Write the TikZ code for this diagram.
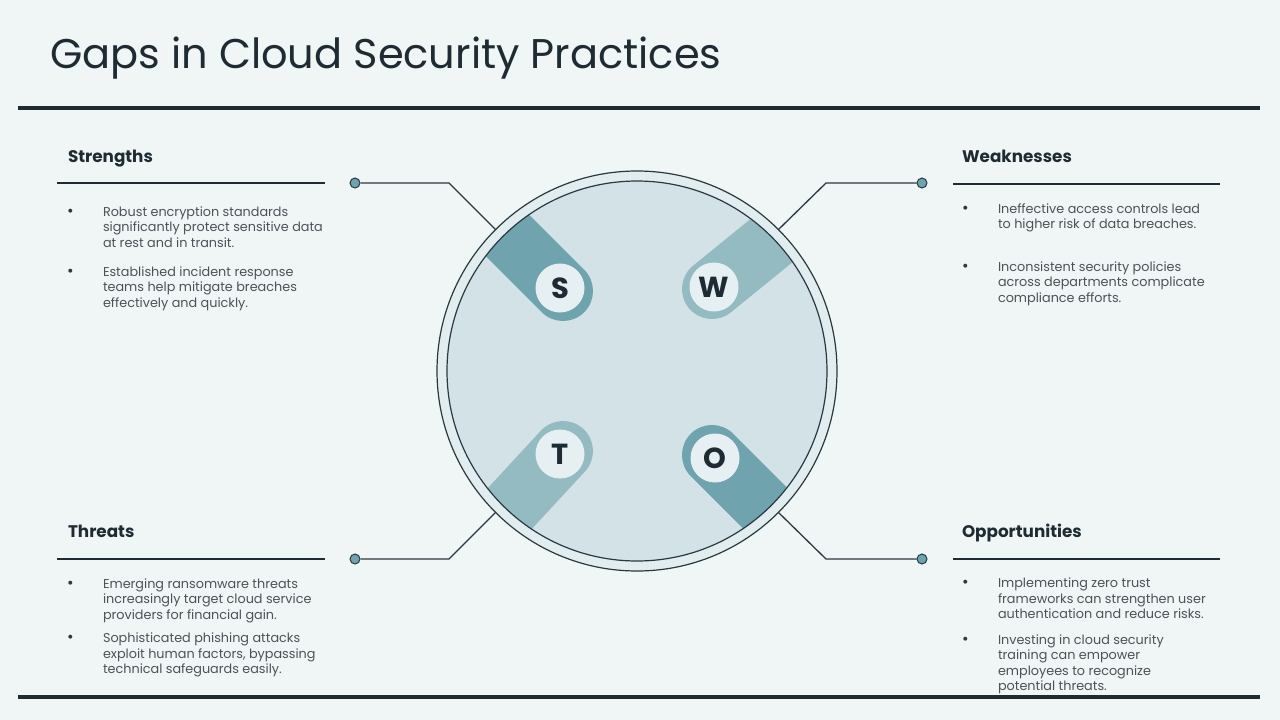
\documentclass[tikz,border=0pt]{standalone}
\usepackage{fontspec}
\setmainfont{Poppins}
\definecolor{bg}{HTML}{F0F5F6}
\definecolor{ink}{HTML}{1F2B33}
\definecolor{ink2}{HTML}{2A3840}
\definecolor{txt}{HTML}{4A5358}
\definecolor{ring}{HTML}{E2EDEF}
\definecolor{disc}{HTML}{D2E2E6}
\definecolor{tealA}{HTML}{6FA3AD}
\definecolor{tealB}{HTML}{93BBC1}
\definecolor{chip}{HTML}{E6EFF1}
\begin{document}
\begin{tikzpicture}[x=1pt,y=-1pt,
  head/.style={anchor=base west, inner sep=0, outer sep=0, text=ink, font=\fontsize{16.8}{20}\selectfont\bfseries},
  body/.style={anchor=base west, inner sep=0, outer sep=0, text=txt, align=left, font=\fontsize{12.8}{15.3}\selectfont},
  bul/.style={anchor=base west, inner sep=0, outer sep=0, text=ink2, font=\fontsize{16}{15.3}\selectfont},
  hrule/.style={draw=ink, line width=1.5pt},
  thick rule/.style={draw=ink, line width=4pt},
  conn/.style={draw=ink2, line width=1.3pt},
  dotnode/.style={circle, fill=tealA, draw=ink2, line width=1pt, minimum size=10pt, inner sep=0},
  letter/.style={circle, fill=chip, minimum size=49pt, inner sep=0, text=ink, font=\fontsize{29}{29}\selectfont\bfseries},
  band/.style={line width=60pt, line cap=round}
]
\useasboundingbox (0,0) rectangle (1280,720);
\fill[bg] (0,0) rectangle (1280,720);

% title and rules
\node[anchor=base west, inner sep=0, text=ink, font=\fontsize{41.5}{48}\selectfont] (title) at (50,68) {Gaps in Cloud Security Practices};
\coordinate (tl) at (18,108); \coordinate (tr) at (1260,108);
\coordinate (bl) at (18,697); \coordinate (br) at (1260,697);
\draw[thick rule] (tl) -- (tr);
\draw[thick rule] (bl) -- (br);

% central circle
\node[circle, minimum size=400pt, fill=ring, draw=ink2, line width=1.2pt, inner sep=0, outer sep=0] (outer) at (637,371) {};
\node[circle, minimum size=380pt, fill=disc, inner sep=0, outer sep=0] (inner) at (637,371) {};
\begin{scope}
  \clip (637,371) circle[radius=190];
  \draw[band, tealA] (563,291) -- (363,91);
  \draw[band, tealB] (712,289) -- (867,163);
  \draw[band, tealB] (563,451) -- (427,598);
  \draw[band, tealA] (712,455) -- (853,596);
\end{scope}
\draw[ink2, line width=1.2pt] (inner.center) circle[radius=190];
\node[letter] (S) at (560,288) {S};
\node[letter] (W) at (714,287) {W};
\node[letter] (T) at (560,454) {T};
\node[letter] (O) at (715,458) {O};

% connectors
\node[dotnode] (dS) at (355,183) {};
\node[dotnode] (dW) at (922,183) {};
\node[dotnode] (dT) at (355,559) {};
\node[dotnode] (dO) at (922,559) {};
\coordinate (kS) at (449,183);
\coordinate (kW) at (826,183);
\coordinate (kT) at (449,559);
\coordinate (kO) at (826,559);
\draw[conn] (dS) -- (kS) -- (outer.135);
\draw[conn] (dW) -- (kW) -- (outer.45);
\draw[conn] (dT) -- (kT) -- (outer.225);
\draw[conn] (dO) -- (kO) -- (outer.315);

% Strengths (body nodes are anchored at the baseline of their last line)
\node[head] (hS) at (68,162) {Strengths};
\coordinate (rS1) at (57,183); \coordinate (rS2) at (325,183);
\draw[hrule] (rS1) -- (rS2);
\node[bul] (bS1) at (67,216) {•};
\node[body] (tS1) at (103,247) {Robust encryption standards\\significantly protect sensitive data\\at rest and in transit.};
\node[bul] (bS2) at (67,276) {•};
\node[body] (tS2) at (103,307) {Established incident response\\teams help mitigate breaches\\effectively and quickly.};

% Weaknesses
\node[head] (hW) at (962,162) {Weaknesses};
\coordinate (rW1) at (953,184); \coordinate (rW2) at (1220,184);
\draw[hrule] (rW1) -- (rW2);
\node[bul] (bW1) at (962,213) {•};
\node[body] (tW1) at (998,228.7) {Ineffective access controls lead\\to higher risk of data breaches.};
\node[bul] (bW2) at (962,271) {•};
\node[body] (tW2) at (998,302) {Inconsistent security policies\\across departments complicate\\compliance efforts.};

% Threats
\node[head] (hT) at (68,537) {Threats};
\coordinate (rT1) at (57,559); \coordinate (rT2) at (325,559);
\draw[hrule] (rT1) -- (rT2);
\node[bul] (bT1) at (67,588) {•};
\node[body] (tT1) at (103,619) {Emerging ransomware threats\\increasingly target cloud service\\providers for financial gain.};
\node[bul] (bT2) at (67,642.5) {•};
\node[body] (tT2) at (103,673.5) {Sophisticated phishing attacks\\exploit human factors, bypassing\\technical safeguards easily.};

% Opportunities
\node[head] (hO) at (962,537) {Opportunities};
\coordinate (rO1) at (953,559); \coordinate (rO2) at (1220,559);
\draw[hrule] (rO1) -- (rO2);
\node[bul] (bO1) at (962,587.5) {•};
\node[body] (tO1) at (998,618.5) {Implementing zero trust\\frameworks can strengthen user\\authentication and reduce risks.};
\node[bul] (bO2) at (962,644) {•};
\node[body] (tO2) at (998,690.3) {Investing in cloud security\\training can empower\\employees to recognize\\potential threats.};
\end{tikzpicture}
\end{document}
